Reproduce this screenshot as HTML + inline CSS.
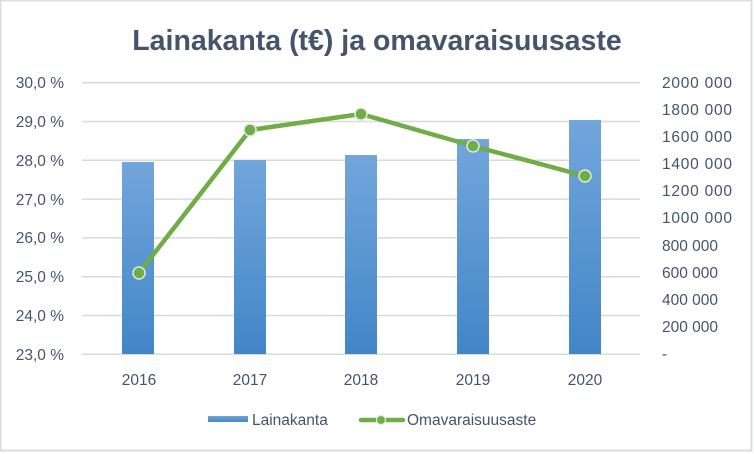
<!DOCTYPE html>
<html><head><meta charset="utf-8"><style>
html,body{margin:0;padding:0;background:#fff}
svg{display:block;font-family:"Liberation Sans",sans-serif}
</style></head><body>
<svg width="754" height="454" viewBox="0 0 754 454">
<defs><linearGradient id="g" x1="0" y1="0" x2="0" y2="1"><stop offset="0" stop-color="#72a6db"/><stop offset="1" stop-color="#4286c8"/></linearGradient></defs>
<rect x="0.5" y="0.5" width="751" height="450" fill="#fff" stroke="#d9dce1" stroke-width="2"/>
<text x="377" y="50" text-anchor="middle" font-size="28.5" font-weight="bold" fill="#44546a">Lainakanta (t€) ja omavaraisuusaste</text>
<g stroke="#d9d9d9" stroke-width="1.5">
<line x1="82" x2="640" y1="82.7" y2="82.7"/><line x1="82" x2="640" y1="121.5" y2="121.5"/><line x1="82" x2="640" y1="160.3" y2="160.3"/><line x1="82" x2="640" y1="199.1" y2="199.1"/><line x1="82" x2="640" y1="237.9" y2="237.9"/><line x1="82" x2="640" y1="276.7" y2="276.7"/><line x1="82" x2="640" y1="315.5" y2="315.5"/><line x1="82" x2="640" y1="354.3" y2="354.3"/>
</g>
<g font-size="15.5" fill="#44546a" text-anchor="end">
<text x="64" y="88">30,0 %</text><text x="64" y="127">29,0 %</text><text x="64" y="166">28,0 %</text><text x="64" y="205">27,0 %</text><text x="64" y="243">26,0 %</text><text x="64" y="282">25,0 %</text><text x="64" y="321">24,0 %</text><text x="64" y="360">23,0 %</text>
</g>
<g font-size="15.5" fill="#44546a">
<text x="662" y="88" textLength="70">2000 000</text><text x="662" y="115" textLength="70">1800 000</text><text x="662" y="142" textLength="70">1600 000</text><text x="662" y="169" textLength="70">1400 000</text><text x="662" y="196" textLength="70">1200 000</text><text x="662" y="223" textLength="70">1000 000</text><text x="662" y="251">800 000</text><text x="662" y="278">600 000</text><text x="662" y="305">400 000</text><text x="662" y="332">200 000</text><text x="662" y="359">-</text>
</g>
<g fill="url(#g)">
<rect x="122" y="162" width="32" height="192"/>
<rect x="234" y="160" width="32" height="194"/>
<rect x="345" y="155" width="32" height="199"/>
<rect x="457" y="139" width="32" height="215"/>
<rect x="569" y="120" width="32" height="234"/>
</g>
<polyline points="139,273 250,130 361,114 473,146 585,176" fill="none" stroke="#70ad47" stroke-width="4.5" stroke-linejoin="round"/>
<g fill="#70ad47" stroke="#e2e8dc" stroke-width="1.5">
<circle cx="139" cy="273" r="6"/><circle cx="250" cy="130" r="6"/><circle cx="361" cy="114" r="6"/><circle cx="473" cy="146" r="6"/><circle cx="585" cy="176" r="6"/>
</g>
<g font-size="15.5" fill="#44546a" text-anchor="middle">
<text x="139" y="385">2016</text><text x="250" y="385">2017</text><text x="361" y="385">2018</text><text x="473" y="385">2019</text><text x="585" y="385">2020</text>
</g>
<rect x="208" y="416" width="40" height="6" fill="url(#g)"/>
<text x="252" y="425" font-size="15.5" fill="#44546a">Lainakanta</text>
<line x1="361" y1="420" x2="403" y2="420" stroke="#70ad47" stroke-width="4.5" stroke-linecap="round"/>
<circle cx="381" cy="420" r="4.5" fill="#70ad47" stroke="#e2e8dc" stroke-width="1.2"/>
<text x="407" y="425" font-size="15.5" fill="#44546a">Omavaraisuusaste</text>
</svg>
</body></html>
